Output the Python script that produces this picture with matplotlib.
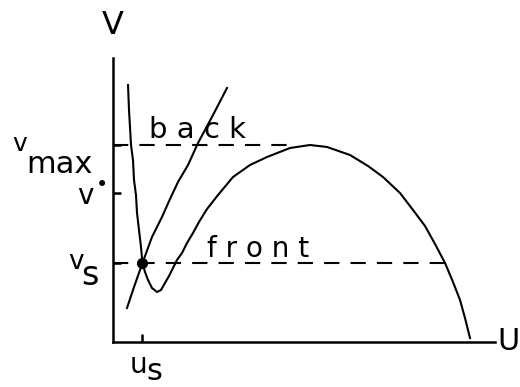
import matplotlib.pyplot as plt
import numpy as np

plt.rcParams['font.family'] = ['DejaVu Sans']
plt.rcParams['lines.scale_dashes'] = False

# front curve: N-shaped nullcline (u, v)
front_u = [0.395, 0.421, 0.447, 0.474, 0.526, 0.553, 0.605, 0.632, 0.684, 0.737,
           0.776, 0.842, 0.921, 1.026, 1.158, 1.263, 1.368, 1.474, 1.579, 1.684,
           1.816, 1.947, 2.105, 2.263, 2.474, 2.763, 3.158, 3.605, 4.053, 4.658,
           5.184, 5.632, 6.237, 6.711, 7.105, 7.553, 7.895, 8.211, 8.474, 8.737,
           8.947, 9.132, 9.263, 9.395]
front_v = [6.763, 6.105, 5.658, 5.184, 4.789, 4.263, 3.868, 3.395, 2.947, 2.5,
           2.08, 1.842, 1.632, 1.421, 1.316, 1.368, 1.553, 1.737, 1.947, 2.158,
           2.342, 2.605, 2.868, 3.158, 3.5, 3.868, 4.342, 4.658, 4.868, 5.105,
           5.184, 5.132, 4.921, 4.632, 4.342, 3.921, 3.474, 3.053, 2.579, 2.08,
           1.579, 1.105, 0.632, 0.105]

# back curve
back_u = [0.368, 0.553, 0.776, 1.026, 1.289, 1.5, 1.711, 1.974, 2.237, 2.632, 3.0]
back_v = [0.895, 1.447, 2.08, 2.763, 3.289, 3.763, 4.211, 4.658, 5.237, 5.974, 6.684]

# special levels
u_s = 0.776
v_s = 2.08
v_star = 3.92
v_max = 5.184
u_front_s = 8.737   # right branch of front at v_s
u_max_end = 4.66    # v_max guide meets the front curve

fig = plt.figure(figsize=(5.2, 3.87), dpi=100)
ax = fig.add_axes([113 / 520, 45 / 387, 382 / 520, 284 / 387])
ax.set_xlim(0, 382 / 38)
ax.set_ylim(0, 284 / 38)

for s in ['top', 'right']:
    ax.spines[s].set_visible(False)
for s in ['left', 'bottom']:
    ax.spines[s].set_linewidth(1.8)

ax.set_xticks([u_s])
ax.set_yticks([v_s, v_star, v_max])
ax.set_xticklabels([])
ax.set_yticklabels([])
ax.tick_params(direction='in', length=6, width=1.8)

lw = 1.5
ax.plot(front_u, front_v, color='black', lw=lw, solid_joinstyle='round')
ax.plot(back_u, back_v, color='black', lw=lw, solid_joinstyle='round')

dash = dict(color='black', lw=1.5, dashes=(11, 8))
ax.plot([0.0, u_max_end], [v_max, v_max], **dash)
ax.plot([0.0, u_front_s], [v_s, v_s], **dash)

ax.plot([u_s], [v_s], 'o', color='black', ms=7, clip_on=False, zorder=5)

kw = dict(color='black', clip_on=False, ha='center', va='center')
ax.text(0.0, 8.34, 'V', fontsize=23, **kw)
ax.text(10.42, 0.0, 'U', fontsize=22, **kw)

ax.text(-2.45, 5.22, 'v', fontsize=18, **kw)
ax.text(-1.4, 4.68, 'max', fontsize=22, **kw)
ax.text(-0.74, 3.84, 'v', fontsize=20, **kw)
ax.text(-0.3, 4.14, '•', fontsize=15, **kw)
ax.text(-0.97, 2.1, 'v', fontsize=19, **kw)
ax.text(-0.6, 1.74, 's', fontsize=24, **kw)
ax.text(0.68, -0.6, 'u', fontsize=20, **kw)
ax.text(1.1, -0.78, 's', fontsize=22, **kw)

ax.text(2.22, 5.37, 'b a c k', fontsize=21, color='black', ha='center', va='baseline')
ax.text(3.82, 2.24, 'f r o n t', fontsize=20, color='black', ha='center', va='baseline')

fig.savefig('out.png', dpi=100)
